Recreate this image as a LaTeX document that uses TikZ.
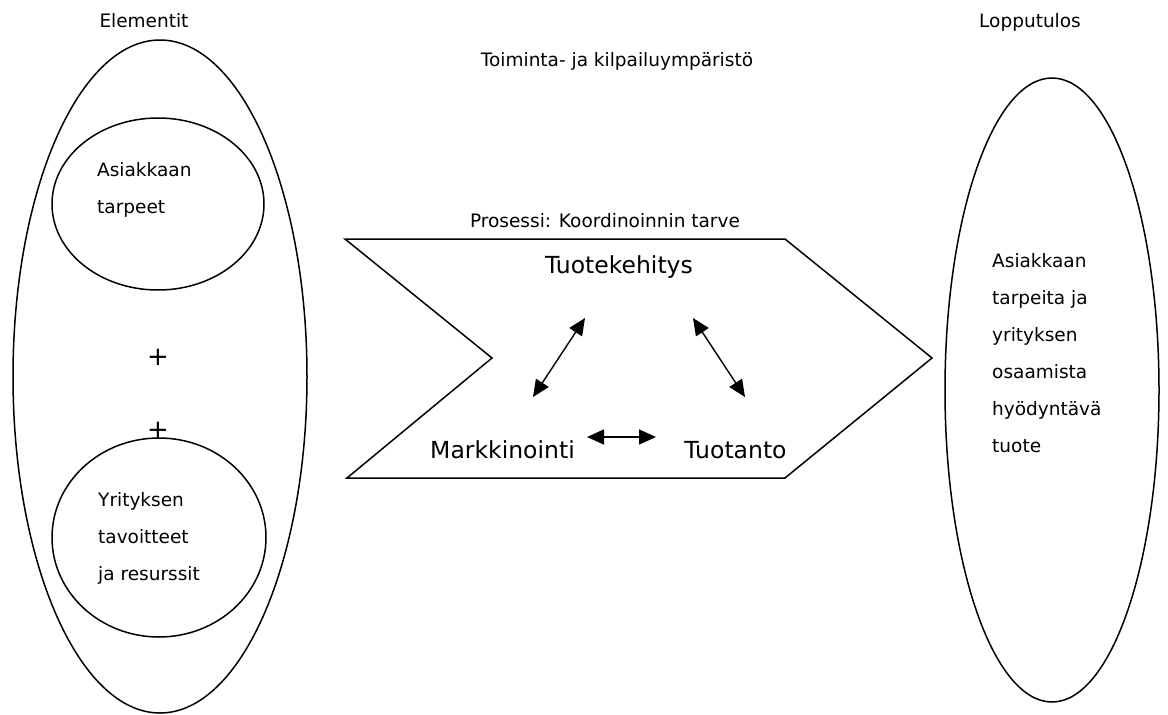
\documentclass[tikz,border=0pt]{standalone}
\usepackage{fontspec}
\setmainfont{DejaVu Sans}
\usetikzlibrary{shapes.geometric,arrows.meta}
\begin{document}
\begin{tikzpicture}[x=1pt,y=-1pt,
  shape line/.style={draw=black, line width=1.5pt},
  oval/.style={shape line, ellipse, inner sep=0pt},
  small/.style={font=\fontsize{18.5}{37}\selectfont, inner sep=0pt},
  big/.style={font=\fontsize{23.5}{28}\selectfont, inner sep=0pt},
  block/.style={small, align=left, anchor=base west},
  plus/.style={font=\fontsize{26}{26}\selectfont, inner sep=0pt},
  link/.style={line width=1.4pt, {Triangle[length=17pt,width=15pt]}-{Triangle[length=17pt,width=15pt]}}
]
\useasboundingbox (0,0) rectangle (1168,715);
% left ellipse and circles
\node[oval, minimum width=294pt, minimum height=673pt] (elem) at (160,376.5) {};
\node[oval, minimum width=212pt, minimum height=172pt] (asi) at (158,204) {};
\node[oval, minimum width=214pt, minimum height=199pt] (yri) at (159,537.5) {};
% right ellipse
\node[oval, minimum width=214pt, minimum height=624pt] (lop) at (1052,390) {};
% titles
\node[small, anchor=base] (telem) at (144,27) {Elementit};
\node[small, anchor=base] (tlop) at (1030,27) {Lopputulos};
\node[small, anchor=base] (tenv) at (617,66) {Toiminta- ja kilpailuympäristö};
\node[small, anchor=base] (tpro) at (605,227) {Prosessi: Koordinoinnin tarve};
% inner texts (anchor at baseline of the last line)
\node[block] (tasi) at (97,213) {Asiakkaan\\tarpeet};
\node[block] (tyri) at (98,580) {Yrityksen\\tavoitteet\\ja resurssit};
\node[block] (tlopt) at (992,452) {Asiakkaan\\tarpeita ja\\yrityksen\\osaamista\\hyödyntävä\\tuote};
\node[plus] (p1) at (158,357) {+};
\node[plus] (p2) at (158,430) {+};
% chevron
\coordinate (c1) at (345,239);
\coordinate (c2) at (785,239);
\coordinate (c3) at (932,358);
\coordinate (c4) at (785,478);
\coordinate (c5) at (347,478);
\coordinate (c6) at (492,358);
\draw[shape line, line join=miter] (c1) -- (c2) -- (c3) -- (c4) -- (c5) -- (c6) -- cycle;
% process texts
\node[big, anchor=base] (tk) at (619,273) {Tuotekehitys};
\node[big, anchor=base] (mk) at (502.5,458) {Markkinointi};
\node[big, anchor=base] (tt) at (735.5,458) {Tuotanto};
% arrows
\coordinate (a1) at (533,397);
\coordinate (a2) at (585,318);
\coordinate (b1) at (693,318);
\coordinate (b2) at (745,397);
\coordinate (h1) at (587,437);
\coordinate (h2) at (656,437);
\draw[link] (a1) -- (a2);
\draw[link] (b1) -- (b2);
\draw[link] (h1) -- (h2);
\end{tikzpicture}
\end{document}
